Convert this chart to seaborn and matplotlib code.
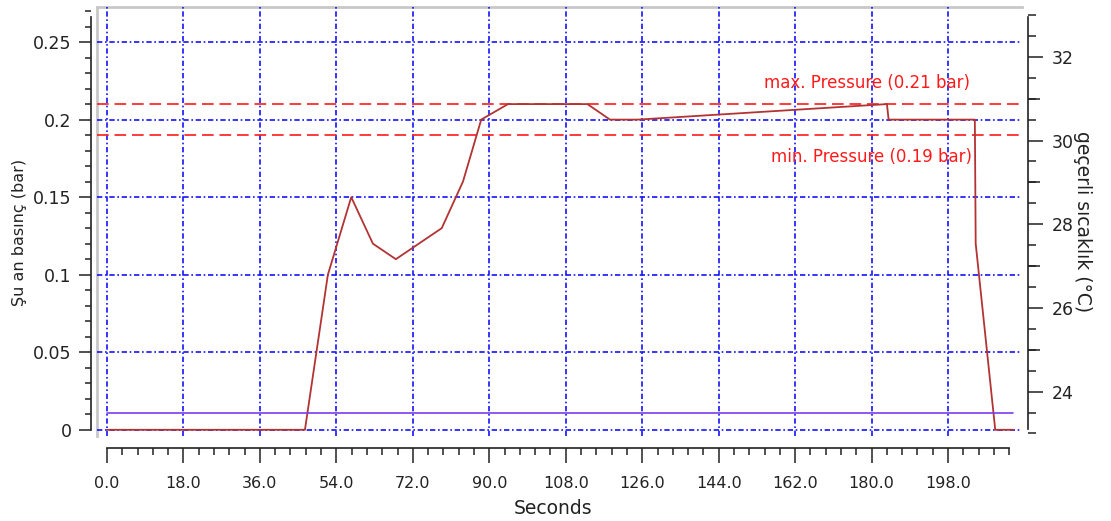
import numpy as np
import pandas as pd
import matplotlib
matplotlib.use("Agg")
import matplotlib.pyplot as plt
from matplotlib.ticker import FixedLocator, MultipleLocator, FuncFormatter, NullFormatter
import seaborn as sns

# Pressure log (seconds, bar)
time_s = [0.0, 46.6, 52.0, 57.5, 62.6, 68.0, 78.8, 83.8, 88.1, 94.4, 113.1,
          118.4, 125.0, 183.6, 184.0, 204.3, 204.5, 209.1, 213.3]
pressure_bar = [0.0, 0.0, 0.10, 0.15, 0.12, 0.11, 0.13, 0.16, 0.20, 0.21, 0.21,
                0.20, 0.20, 0.21, 0.20, 0.20, 0.12, 0.0, 0.0]

# Temperature log (seconds, °C)
temp_time_s = [0.0, 213.3]
temperature_c = [23.5, 23.5]

# Pressure limits
max_pressure = 0.21
min_pressure = 0.19
max_label = "max. Pressure (0.21 bar)"
min_label = "min. Pressure (0.19 bar)"

x_label = "Seconds"
y_label_left = "Şu an basınç (bar)"
y_label_right = "geçerli sıcaklık (°C)"

sns.set_style("white")
plt.rcParams["font.family"] = ["DejaVu Sans"]

pressure_df = pd.DataFrame({"t": time_s, "p": pressure_bar})
temp_df = pd.DataFrame({"t": temp_time_s, "c": temperature_c})

W, H = 1111, 521
fig = plt.figure(figsize=(W / 100, H / 100), dpi=100)
pos = [97 / W, (H - 436) / H, (1022 - 97) / W, (436 - 7) / H]

# light frame behind the plotting area (top and left edges only)
frame = fig.add_axes(pos, zorder=0)
frame.set_xticks([])
frame.set_yticks([])
for side in ("right", "bottom"):
    frame.spines[side].set_visible(False)
for side in ("left", "top"):
    frame.spines[side].set_color("#c8c8c8")
    frame.spines[side].set_linewidth(2.0)

ax = fig.add_axes(pos, zorder=2)
ax.patch.set_alpha(0)

ink = "#222222"
grid_blue = "#1414ff"
line_red = "#b33333"
limit_red = "#ff1a1a"
temp_purple = "#7a3cf0"

sns.lineplot(data=pressure_df, x="t", y="p", ax=ax, color=line_red, lw=1.3,
             estimator=None, sort=False, zorder=5)
ax.axhline(max_pressure, color=limit_red, lw=1.2, dashes=(7, 3.5), zorder=4)
ax.axhline(min_pressure, color=limit_red, lw=1.2, dashes=(7, 3.5), zorder=4)
ax.text(203.1, 0.2236, max_label, color=limit_red, fontsize=12,
        ha="right", va="center", zorder=6)
ax.text(203.6, 0.176, min_label, color=limit_red, fontsize=12,
        ha="right", va="center", zorder=6)

ax.set_xlim(-2.35, 215.4)
ax.set_ylim(-0.004, 0.2726)

ax.xaxis.set_major_locator(MultipleLocator(18))
ax.xaxis.set_minor_locator(FixedLocator(np.arange(0, 213, 3.6)))
ax.xaxis.set_major_formatter(FuncFormatter(lambda v, p: f"{v:.1f}"))
ax.yaxis.set_major_locator(MultipleLocator(0.05))
ax.yaxis.set_minor_locator(MultipleLocator(0.01))
ax.yaxis.set_major_formatter(FuncFormatter(lambda v, p: f"{v:g}"))

ax.grid(True, which="major", color=grid_blue, lw=1.2, dashes=(3.2, 1.6, 1.0, 1.6))
ax.set_axisbelow(True)

for side in ("top", "right"):
    ax.spines[side].set_visible(False)
ax.spines["left"].set_position(("outward", 4.3))
ax.spines["left"].set_bounds(0, 0.266)
ax.spines["bottom"].set_position(("outward", 8.6))
ax.spines["bottom"].set_bounds(0, 212.4)
for side in ("left", "bottom"):
    ax.spines[side].set_color(ink)
    ax.spines[side].set_linewidth(1.2)

ax.tick_params(axis="y", which="major", left=True, direction="out", length=8.6,
               width=1.1, color=ink, pad=5.5, labelsize=12.5, labelcolor=ink)
ax.tick_params(axis="y", which="minor", left=True, direction="out", length=4.5,
               width=1.1, color=ink)
ax.tick_params(axis="x", which="major", bottom=True, direction="out", length=10.8,
               width=1.1, color=ink, pad=9.5, labelsize=11.5, labelcolor=ink)
ax.tick_params(axis="x", which="minor", bottom=True, direction="out", length=5.0,
               width=1.1, color=ink)

ax.set_xlabel(x_label, fontsize=13.5, color=ink)
ax.xaxis.set_label_coords(0.493, -0.147)
ax.set_ylabel(y_label_left, fontsize=11.5, color=ink)
ax.yaxis.set_label_coords(-0.076, 0.4755)

# temperature on a second y axis
ax2 = ax.twinx()
ax2.set_zorder(3)
ax2.patch.set_alpha(0)
sns.lineplot(data=temp_df, x="t", y="c", ax=ax2, color=temp_purple, lw=1.2,
             estimator=None, sort=False)
ax2.set_ylim(22.94, 33.19)
ax2.yaxis.set_major_locator(MultipleLocator(2))
ax2.yaxis.set_minor_locator(MultipleLocator(0.5))
ax2.yaxis.set_major_formatter(FuncFormatter(lambda v, p: f"{v:g}"))
for side in ("top", "left", "bottom"):
    ax2.spines[side].set_visible(False)
ax2.spines["right"].set_position(("outward", 4.3))
ax2.spines["right"].set_bounds(23.1, 32.95)
ax2.spines["right"].set_color(ink)
ax2.spines["right"].set_linewidth(1.2)
ax2.tick_params(axis="y", which="major", right=True, direction="out", length=10.8,
                width=1.1, color=ink, pad=6, labelsize=12.5, labelcolor=ink)
ax2.tick_params(axis="y", which="minor", right=True, direction="out", length=5.8,
                width=1.1, color=ink)
ax2.set_ylabel(y_label_right, fontsize=13.5, color=ink, rotation=270)
ax2.yaxis.set_label_coords(1.0757, 0.499)
ax2.set_xlabel("")

# medium-length ticks at the odd degrees
ax3 = ax.twinx()
ax3.patch.set_alpha(0)
ax3.set_ylim(ax2.get_ylim())
for side in ("top", "left", "bottom", "right"):
    ax3.spines[side].set_visible(False)
ax3.yaxis.set_major_locator(FixedLocator([25, 27, 29, 31]))
ax3.yaxis.set_major_formatter(NullFormatter())
ax3.tick_params(axis="y", which="major", right=True, direction="out", length=8.6,
                width=1.1, color=ink)
ax3.yaxis.set_ticks_position("right")
# shift the odd-degree ticks onto the offset right spine
for t in ax3.yaxis.get_major_ticks():
    t.tick2line.set_transform(t.tick2line.get_transform() +
                              matplotlib.transforms.ScaledTranslation(4.3 / 72, 0, fig.dpi_scale_trans))

fig.savefig("out.png", dpi=100)
